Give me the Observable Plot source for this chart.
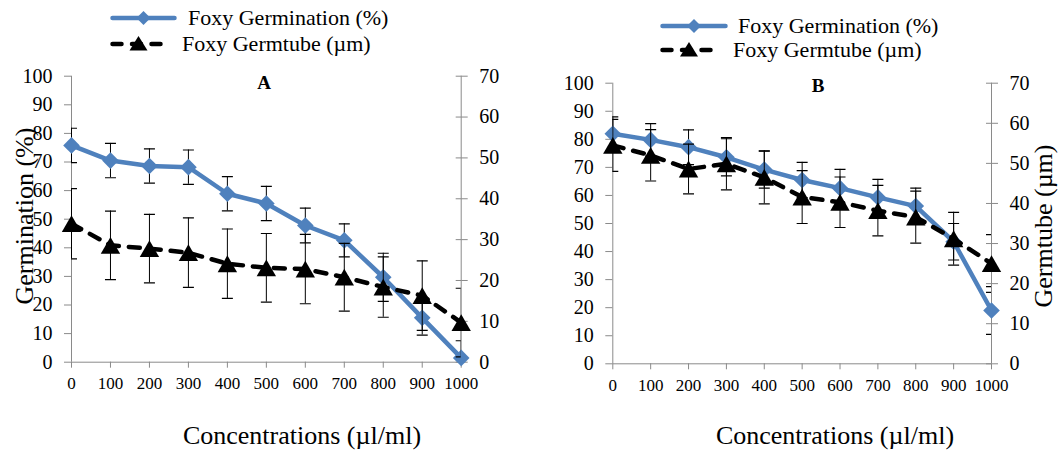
<!DOCTYPE html>
<html><head><meta charset="utf-8">
<script src="https://cdn.jsdelivr.net/npm/d3@7"></script>
<script src="https://cdn.jsdelivr.net/npm/@observablehq/plot@0.6"></script>
<style>
html,body{margin:0;padding:0;background:#fff;}
#chart{position:relative;width:1059px;height:455px;overflow:hidden;font-family:"Liberation Serif","Tinos","Nimbus Roman","Times","DejaVu Serif",serif;color:#000;}
.panel{position:absolute;top:0;}
.lg{position:absolute;display:flex;align-items:center;font-size:22px;white-space:nowrap;transform:translateY(-50%);line-height:1;}
.lg svg{display:block;}
.t{position:absolute;white-space:nowrap;line-height:1;}
</style></head><body><div id="chart"></div>
<script>
// ---- data ----
const concentrations = [0, 100, 200, 300, 400, 500, 600, 700, 800, 900, 1000];
const germA    = [75.8, 70.5, 68.6, 68.2, 58.9, 55.5, 47.8, 42.6, 29.7, 15.5, 1.5];
const germAErr = [6, 6, 6, 6, 6, 6, 6.1, 5.8, 8.4, 6, 6];
const tubeA    = [33.9, 28.6, 27.8, 26.8, 24.1, 23.1, 22.8, 20.8, 18.4, 16.3, 9.7];
const tubeAErr = [8.6, 8.4, 8.4, 8.5, 8.5, 8.4, 8.5, 8.3, 7.4, 8.5, 8.4];
const germB    = [82, 79.8, 77.2, 73.6, 69.2, 65.5, 62.6, 59.3, 56.2, 43.5, 19];
const germBErr = [6, 5.8, 6.2, 6.6, 6.6, 6.3, 6.7, 6.4, 6.4, 6.5, 8.5];
const tubeB    = [54.5, 52, 48.6, 49.9, 46.5, 41.6, 40.3, 38.2, 36.6, 31.2, 25];
const tubeBErr = [6.5, 6.4, 6.2, 6.5, 6.6, 6.6, 6.3, 6.3, 6.5, 6.6, 7.2];
const leftTicks  = [0, 10, 20, 30, 40, 50, 60, 70, 80, 90, 100];
const rightTicks = [0, 10, 20, 30, 40, 50, 60, 70];
const seriesNames = ["Foxy Germination (%)", "Foxy Germtube (\u00b5m)"];
const panelLabels = ["A", "B"];
const yTitleLeft = "Germination (%)";
const yTitleRight = "Germtube  (\u00b5m)";
const xTitle = "Concentrations (\u00b5l/ml)";

// ---- styling ----
const RATIO = 100 / 70;
const BLUE = "#4F81BD";
const AXIS = "#8a8a8a";
const FONT = "'Liberation Serif','Tinos','Nimbus Roman','Times','DejaVu Serif',serif";

function panel({germ, germErr, tube, tubeErr, width, height, margins}) {
  const rows = concentrations.map((c, i) => ({
    c, g: germ[i], ge: germErr[i], t: tube[i] * RATIO, te: tubeErr[i] * RATIO
  }));
  const cap = {draw(ctx) { ctx.moveTo(-5.5, 0); ctx.lineTo(5.5, 0); }};
  const rT = rightTicks.map(v => v * RATIO);
  return Plot.plot({
    width, height, ...margins,
    style: {fontFamily: FONT, fontSize: "20px", color: "black", background: "transparent", overflow: "visible"},
    x: {domain: [0, 1000]},
    y: {domain: [0, 100]},
    marks: [
      Plot.ruleX([0], {stroke: AXIS}),
      Plot.ruleX([1000], {stroke: AXIS}),
      Plot.ruleY([0], {stroke: AXIS}),
      Plot.axisY(leftTicks, {anchor: "left", tickSize: 7, tickPadding: 12, stroke: AXIS, fill: "black", label: null, fontSize: 20, tickFormat: d => `${d}`}),
      Plot.axisY(rT, {anchor: "right", tickSize: 6, tickPadding: 12, stroke: AXIS, fill: "black", label: null, fontSize: 20, tickFormat: d => `${Math.round(d / RATIO)}`}),
      Plot.axisY(rT, {anchor: "right", tickSize: 6, dx: -6, stroke: AXIS, label: null, tickFormat: () => ""}),
      Plot.axisX(concentrations, {anchor: "bottom", tickSize: 6, tickPadding: 9, stroke: AXIS, fill: "black", label: null, fontSize: 17, tickFormat: d => `${d}`}),
      // germination error bars
      Plot.ruleX(rows, {x: "c", y1: d => d.g - d.ge, y2: d => d.g + d.ge, stroke: "black", strokeWidth: 1, clip: true}),
      Plot.dot(rows, {x: "c", y: d => d.g + d.ge, symbol: cap, stroke: "black", fill: "none", strokeWidth: 1.2, clip: true}),
      Plot.dot(rows, {x: "c", y: d => d.g - d.ge, symbol: cap, stroke: "black", fill: "none", strokeWidth: 1.2, clip: true}),
      Plot.line(rows, {x: "c", y: "g", stroke: BLUE, strokeWidth: 4.5, strokeLinejoin: "round"}),
      Plot.dot(rows, {x: "c", y: "g", symbol: "diamond2", r: 7.5, fill: BLUE}),
      // germtube error bars
      Plot.ruleX(rows, {x: "c", y1: d => d.t - d.te, y2: d => d.t + d.te, stroke: "black", strokeWidth: 1, clip: true}),
      Plot.dot(rows, {x: "c", y: d => d.t + d.te, symbol: cap, stroke: "black", fill: "none", strokeWidth: 1.2, clip: true}),
      Plot.dot(rows, {x: "c", y: d => d.t - d.te, symbol: cap, stroke: "black", fill: "none", strokeWidth: 1.2, clip: true}),
      Plot.line(rows, {x: "c", y: "t", stroke: "black", strokeWidth: 4.5, strokeDasharray: "11,10", strokeLinecap: "round"}),
      Plot.dot(rows, {x: "c", y: "t", symbol: "triangle", r: 7.2, fill: "black", dy: 2.8})
    ]
  });
}

const chart = document.getElementById("chart");

function place(el, left) { el.classList.add("panel"); el.style.left = left + "px"; chart.appendChild(el); }

place(panel({germ: germA, germErr: germAErr, tube: tubeA, tubeErr: tubeAErr, width: 530, height: 455,
  margins: {marginLeft: 71, marginRight: 69.3, marginTop: 75.7, marginBottom: 93.3}}), 0);
place(panel({germ: germB, germErr: germBErr, tube: tubeB, tubeErr: tubeBErr, width: 529, height: 455,
  margins: {marginLeft: 82.3, marginRight: 68, marginTop: 82.7, marginBottom: 91.7}}), 530);

// ---- legends ----
const NS = "http://www.w3.org/2000/svg";
function swatch(kind, w) {
  const s = document.createElementNS(NS, "svg");
  s.setAttribute("width", w); s.setAttribute("height", 20);
  if (kind === 0) {
    s.innerHTML = `<line x1="2.5" y1="10" x2="${w - 2.5}" y2="10" stroke="${BLUE}" stroke-width="4.5" stroke-linecap="round"/>` +
      `<polygon points="${w/2},3 ${w/2+7},10 ${w/2},17 ${w/2-7},10" fill="${BLUE}"/>`;
  } else {
    s.innerHTML = `<line x1="2.5" y1="10" x2="${w - 2.5}" y2="10" stroke="black" stroke-width="4.5" stroke-linecap="round" stroke-dasharray="9,10.5"/>` +
      `<polygon points="${w/2},2 ${w/2+9},16.5 ${w/2-9},16.5" fill="black"/>`;
  }
  return s;
}
function legendRow(left, cy, kind, w, gap, text) {
  const d = document.createElement("div");
  d.className = "lg";
  d.style.left = left + "px"; d.style.top = cy + "px"; d.style.gap = gap + "px";
  d.appendChild(swatch(kind, w));
  const sp = document.createElement("span"); sp.textContent = text; d.appendChild(sp);
  chart.appendChild(d);
}
legendRow(110, 18, 0, 67, 11, seriesNames[0]);
legendRow(110, 44, 1, 57, 15, seriesNames[1]);
legendRow(660, 26, 0, 68, 10, seriesNames[0]);
legendRow(660, 50, 1, 58, 15, seriesNames[1]);

// ---- titles ----
function title(text, cx, cy, size, rot, bold) {
  const d = document.createElement("div");
  d.className = "t"; d.textContent = text;
  d.style.left = cx + "px"; d.style.top = cy + "px"; d.style.fontSize = size + "px";
  if (bold) d.style.fontWeight = "bold";
  d.style.transform = `translate(-50%,-50%)${rot ? " rotate(-90deg)" : ""}`;
  chart.appendChild(d);
}
title(panelLabels[0], 264, 82, 19, false, true);
title(panelLabels[1], 818, 85, 19, false, true);
title(yTitleLeft, 25, 216, 26, true);
title(yTitleRight, 1044, 226, 26, true);
title(xTitle, 302, 436, 26, false);
title(xTitle, 835, 436, 26, false);
</script></body></html>
